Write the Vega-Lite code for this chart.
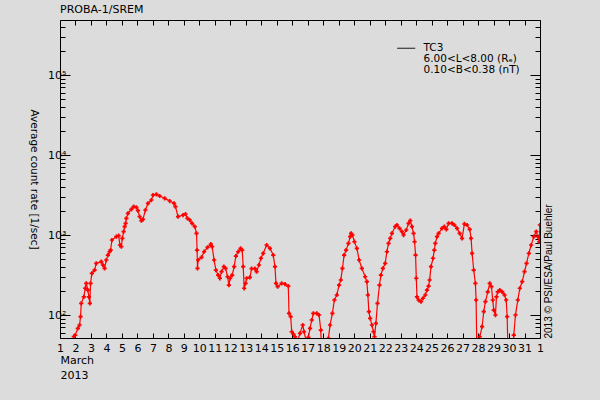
{
  "$schema": "https://vega.github.io/schema/vega-lite/v6.json",
  "width": 480,
  "height": 318,
  "autosize": {"type": "none"},
  "padding": {"left": 60, "top": 20, "right": 60, "bottom": 62},
  "background": "#dcdcdc",
  "title": {"text": "PROBA-1/SREM", "anchor": "start", "frame": "group", "fontSize": 11, "fontWeight": "normal", "font": "DejaVu Sans", "color": "black", "offset": 5},
  "config": {
    "view": {"stroke": "black", "strokeWidth": 1},
    "axis": {"grid": false, "domain": false, "tickColor": "black", "labelColor": "black", "titleColor": "black", "labelFont": "DejaVu Sans", "titleFont": "DejaVu Sans", "labelFontSize": 11, "titleFontSize": 11, "titleFontWeight": "normal"}
  },
  "data": {"values": [
    {"day":1.893,"rate":53.6},{"day":1.984,"rate":56.2},{"day":2.152,"rate":68.2},{"day":2.262,"rate":75},{"day":2.327,"rate":95.2},{"day":2.372,"rate":140},{"day":2.54,"rate":169},{"day":2.631,"rate":216},{"day":2.696,"rate":249},{"day":2.799,"rate":205},{"day":2.864,"rate":169},{"day":2.929,"rate":140},{"day":2.974,"rate":249},{"day":3.058,"rate":332},{"day":3.233,"rate":365},{"day":3.343,"rate":443},{"day":3.667,"rate":464},{"day":3.77,"rate":422},{"day":3.88,"rate":383},{"day":3.99,"rate":487},{"day":4.094,"rate":562},{"day":4.204,"rate":618},{"day":4.269,"rate":649},{"day":4.353,"rate":866},{"day":4.638,"rate":952},{"day":4.786,"rate":980},{"day":4.871,"rate":750},{"day":4.961,"rate":714},{"day":5.026,"rate":909},{"day":5.11,"rate":1100},{"day":5.175,"rate":1270},{"day":5.239,"rate":1400},{"day":5.285,"rate":1617},{"day":5.388,"rate":1868},{"day":5.608,"rate":2096},{"day":5.757,"rate":2258},{"day":5.932,"rate":2220},{"day":6.036,"rate":2014},{"day":6.146,"rate":1694},{"day":6.256,"rate":1509},{"day":6.359,"rate":1571},{"day":6.515,"rate":2053},{"day":6.683,"rate":2490},{"day":6.903,"rate":2738},{"day":7.006,"rate":3162},{"day":7.227,"rate":3226},{"day":7.44,"rate":3073},{"day":7.764,"rate":2876},{"day":8.087,"rate":2661},{"day":8.366,"rate":2490},{"day":8.456,"rate":2258},{"day":8.625,"rate":1694},{"day":8.948,"rate":1778},{"day":9.104,"rate":1830},{"day":9.233,"rate":1617},{"day":9.382,"rate":1540},{"day":9.531,"rate":1400},{"day":9.706,"rate":1270},{"day":9.816,"rate":1050},{"day":9.854,"rate":649},{"day":9.88,"rate":383},{"day":9.919,"rate":487},{"day":10.139,"rate":526},{"day":10.307,"rate":618},{"day":10.528,"rate":702},{"day":10.741,"rate":772},{"day":10.825,"rate":714},{"day":10.955,"rate":487},{"day":11.065,"rate":365},{"day":11.214,"rate":316},{"day":11.324,"rate":288},{"day":11.434,"rate":348},{"day":11.583,"rate":402},{"day":11.693,"rate":383},{"day":11.822,"rate":301},{"day":11.906,"rate":237},{"day":11.99,"rate":288},{"day":12.12,"rate":316},{"day":12.249,"rate":402},{"day":12.359,"rate":546},{"day":12.508,"rate":618},{"day":12.663,"rate":682},{"day":12.767,"rate":649},{"day":12.832,"rate":402},{"day":12.896,"rate":216},{"day":12.987,"rate":249},{"day":13.052,"rate":288},{"day":13.265,"rate":296},{"day":13.375,"rate":379},{"day":13.589,"rate":379},{"day":13.699,"rate":348},{"day":13.848,"rate":422},{"day":13.977,"rate":512},{"day":14.126,"rate":590},{"day":14.346,"rate":750},{"day":14.56,"rate":682},{"day":14.773,"rate":562},{"day":14.884,"rate":402},{"day":14.948,"rate":249},{"day":15.058,"rate":226},{"day":15.317,"rate":249},{"day":15.531,"rate":244},{"day":15.744,"rate":230},{"day":15.79,"rate":105},{"day":15.9,"rate":95.2},{"day":15.964,"rate":61.8},{"day":16.068,"rate":57.9},{"day":16.178,"rate":53.5},{"day":16.353,"rate":48},{"day":16.502,"rate":59},{"day":16.677,"rate":75},{"day":16.761,"rate":61.8},{"day":16.89,"rate":48},{"day":17.039,"rate":52.6},{"day":17.149,"rate":68.2},{"day":17.259,"rate":86.6},{"day":17.363,"rate":105},{"day":17.583,"rate":105},{"day":17.731,"rate":100},{"day":17.842,"rate":64.9},{"day":17.906,"rate":30},{"day":18.295,"rate":30},{"day":18.333,"rate":51.2},{"day":18.443,"rate":75},{"day":18.592,"rate":105},{"day":18.722,"rate":154},{"day":18.877,"rate":178},{"day":19.026,"rate":237},{"day":19.136,"rate":274},{"day":19.24,"rate":383},{"day":19.35,"rate":562},{"day":19.479,"rate":649},{"day":19.628,"rate":787},{"day":19.738,"rate":952},{"day":19.803,"rate":1050},{"day":19.887,"rate":1000},{"day":20.016,"rate":824},{"day":20.172,"rate":682},{"day":20.32,"rate":487},{"day":20.495,"rate":383},{"day":20.709,"rate":301},{"day":20.819,"rate":261},{"day":20.883,"rate":178},{"day":20.948,"rate":110},{"day":21.032,"rate":90.9},{"day":21.142,"rate":75},{"day":21.246,"rate":61.8},{"day":21.311,"rate":53.5},{"day":21.401,"rate":78.7},{"day":21.505,"rate":140},{"day":21.634,"rate":237},{"day":21.725,"rate":316},{"day":21.854,"rate":383},{"day":22.003,"rate":443},{"day":22.113,"rate":618},{"day":22.217,"rate":787},{"day":22.327,"rate":909},{"day":22.437,"rate":1050},{"day":22.651,"rate":1270},{"day":22.761,"rate":1334},{"day":22.929,"rate":1213},{"day":23.084,"rate":1100},{"day":23.188,"rate":1000},{"day":23.362,"rate":1155},{"day":23.511,"rate":1400},{"day":23.621,"rate":1509},{"day":23.731,"rate":1270},{"day":23.835,"rate":1050},{"day":23.9,"rate":824},{"day":23.964,"rate":562},{"day":24.01,"rate":288},{"day":24.055,"rate":169},{"day":24.159,"rate":154},{"day":24.314,"rate":147},{"day":24.444,"rate":162},{"day":24.592,"rate":178},{"day":24.702,"rate":205},{"day":24.806,"rate":230},{"day":24.871,"rate":274},{"day":24.961,"rate":402},{"day":25.091,"rate":512},{"day":25.175,"rate":649},{"day":25.239,"rate":787},{"day":25.35,"rate":952},{"day":25.453,"rate":1050},{"day":25.673,"rate":1213},{"day":25.822,"rate":1270},{"day":25.951,"rate":1178},{"day":26.1,"rate":1400},{"day":26.32,"rate":1400},{"day":26.469,"rate":1334},{"day":26.644,"rate":1213},{"day":26.812,"rate":1050},{"day":26.968,"rate":909},{"day":27.117,"rate":1373},{"day":27.291,"rate":1334},{"day":27.46,"rate":1178},{"day":27.55,"rate":909},{"day":27.615,"rate":590},{"day":27.718,"rate":365},{"day":27.828,"rate":249},{"day":27.874,"rate":154},{"day":27.913,"rate":45},{"day":28.003,"rate":30},{"day":28.107,"rate":53.5},{"day":28.262,"rate":71.5},{"day":28.366,"rate":110},{"day":28.476,"rate":147},{"day":28.625,"rate":195},{"day":28.754,"rate":249},{"day":28.864,"rate":226},{"day":28.948,"rate":154},{"day":29.013,"rate":115},{"day":29.123,"rate":100},{"day":29.188,"rate":169},{"day":29.272,"rate":195},{"day":29.401,"rate":205},{"day":29.557,"rate":195},{"day":29.706,"rate":178},{"day":29.816,"rate":154},{"day":29.88,"rate":95.2},{"day":29.919,"rate":45},{"day":30.204,"rate":35},{"day":30.307,"rate":56.2},{"day":30.417,"rate":100},{"day":30.566,"rate":154},{"day":30.696,"rate":216},{"day":30.851,"rate":261},{"day":31.0,"rate":348},{"day":31.13,"rate":443},{"day":31.28,"rate":590},{"day":31.43,"rate":750},{"day":31.6,"rate":952},{"day":31.76,"rate":1100},{"day":31.86,"rate":952},{"day":31.95,"rate":824},{"day":31.99,"rate":1334}
  ]},
  "layer": [
    {
      "mark": {"type": "line", "strokeWidth": 1.2, "color": "red", "clip": true},
      "encoding": {
        "x": {"field": "day", "type": "quantitative", "scale": {"domain": [1, 32], "nice": false, "zero": false},
          "axis": {"orient": "bottom", "values": [1,2,3,4,5,6,7,8,9,10,11,12,13,14,15,16,17,18,19,20,21,22,23,24,25,26,27,28,29,30,31,32], "labelExpr": "datum.value == 32 ? '1' : '' + datum.value", "tickSize": -5, "labelPadding": 9, "labelFlush": false, "labelOverlap": false,
            "title": ["March", "2013"], "titleAnchor": "start", "titleAlign": "left", "titleBaseline": "top", "titleLineHeight": 15, "titlePadding": 1}},
        "y": {"field": "rate", "type": "quantitative", "scale": {"type": "log", "domain": [51.6, 487000], "nice": false},
          "axis": {"orient": "left", "values": [60,70,80,90,100,200,300,400,500,600,700,800,900,1000,2000,3000,4000,5000,6000,7000,8000,9000,10000,20000,30000,40000,50000,60000,70000,80000,90000,100000,200000,300000,400000],
            "labelExpr": "datum.value == 100 ? '10²' : datum.value == 1000 ? '10³' : datum.value == 10000 ? '10⁴' : datum.value == 100000 ? '10⁵' : ''",
            "tickSize": {"condition": {"test": "datum.value == 100 || datum.value == 1000 || datum.value == 10000 || datum.value == 100000", "value": -10}, "value": -5},
            "labelPadding": 4, "labelOverlap": false, "labelFlush": false,
            "title": "Average count rate [1/sec]", "titleAngle": 90, "titleFontSize": 10.5, "titlePadding": 19}},
        "strokeDash": {"datum": "TC3", "type": "nominal",
          "scale": {"domain": ["TC3", "6.00<L<8.00 (Rₑ)", "0.10<B<0.38 (nT)"], "range": [[1, 0], [1, 0], [1, 0]]},
          "legend": {"orient": "none", "legendX": 341, "legendY": 23, "title": null, "symbolType": "M-2.25,0H2.25", "symbolSize": 64, "symbolStrokeWidth": 1, "symbolStrokeColor": "black", "labelFontSize": 10.5, "labelFont": "DejaVu Sans", "labelColor": "black", "labelOffset": 12, "rowPadding": -3,
            "encode": {"symbols": {"update": {"stroke": {"value": "black"}, "opacity": {"signal": "datum.value === 'TC3' ? 1 : 0"}}}}}}
      }
    },
    {
      "mark": {"type": "point", "shape": "cross", "filled": true, "size": 18, "color": "red", "opacity": 1, "clip": true},
      "encoding": {
        "x": {"field": "day", "type": "quantitative", "axis": {"orient": "top", "values": [1,2,3,4,5,6,7,8,9,10,11,12,13,14,15,16,17,18,19,20,21,22,23,24,25,26,27,28,29,30,31,32], "labels": false, "tickSize": -5, "title": null}},
        "y": {"field": "rate", "type": "quantitative", "axis": {"orient": "right", "values": [60,70,80,90,100,200,300,400,500,600,700,800,900,1000,2000,3000,4000,5000,6000,7000,8000,9000,10000,20000,30000,40000,50000,60000,70000,80000,90000,100000,200000,300000,400000], "labels": false,
          "tickSize": {"condition": {"test": "datum.value == 100 || datum.value == 1000 || datum.value == 10000 || datum.value == 100000", "value": -10}, "value": -5},
          "title": "2013 © PSI/ESA/Paul Buehler", "titleAngle": 270, "titleAnchor": "start", "titleFont": "Liberation Sans", "titleFontSize": 10, "titlePadding": 13}}
      }
    }
  ],
  "resolve": {"axis": {"x": "independent", "y": "independent"}}
}
